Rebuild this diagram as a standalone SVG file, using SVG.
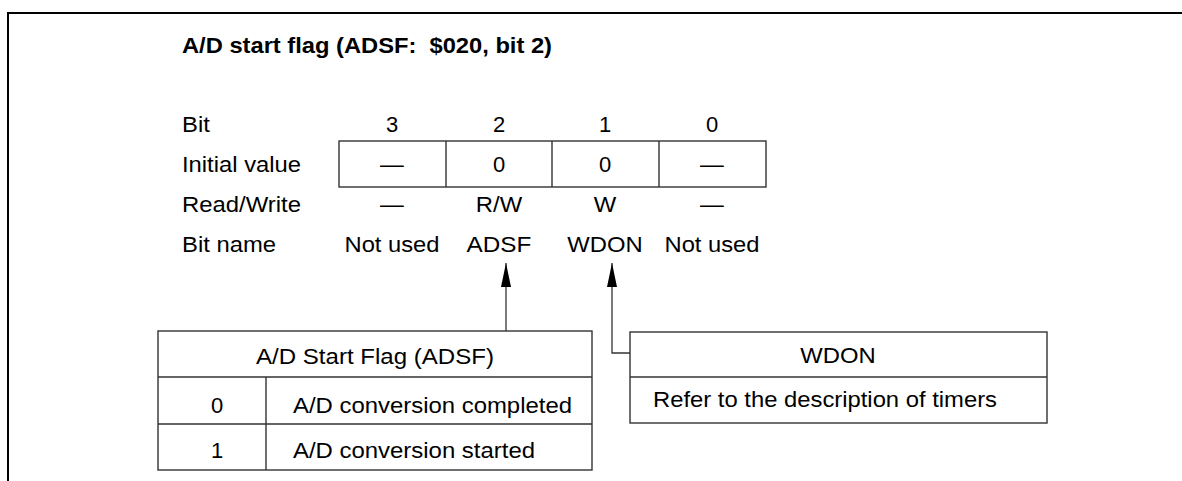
<svg xmlns="http://www.w3.org/2000/svg" width="1182" height="481" viewBox="0 0 1182 481">
<defs>
<style>
text{font-family:"Liberation Sans",Arial,sans-serif;font-size:22px;fill:#000}
.t{font-weight:bold;white-space:pre}
.c{text-anchor:middle}
.box{fill:none;stroke:#333;stroke-width:1.4}
.conn{fill:none;stroke:#333;stroke-width:1.3}
.frame{fill:none;stroke:#000;stroke-width:2}
</style>
<marker id="ah" markerUnits="userSpaceOnUse" markerWidth="24" markerHeight="10" refX="24" refY="5" orient="auto">
<path d="M0,0 L24,5 L0,10 z" fill="#000"/>
</marker>
</defs>
<rect width="1182" height="481" fill="#fff"/>
<path class="frame" d="M8,481 V13 H1182"/>
<text class="t" x="182" y="53" xml:space="preserve" textLength="370" lengthAdjust="spacingAndGlyphs">A/D start flag (ADSF:  $020, bit 2)</text>

<g id="register">
<text x="182" y="132" textLength="27.8" lengthAdjust="spacingAndGlyphs">Bit</text>
<text x="182" y="172" textLength="119" lengthAdjust="spacingAndGlyphs">Initial value</text>
<text x="182" y="212" textLength="119" lengthAdjust="spacingAndGlyphs">Read/Write</text>
<text x="182" y="252" textLength="94" lengthAdjust="spacingAndGlyphs">Bit name</text>
<text class="c" x="392" y="132">3</text>
<text class="c" x="499" y="132">2</text>
<text class="c" x="605" y="132">1</text>
<text class="c" x="712" y="132">0</text>
<rect class="box" x="339" y="141" width="427" height="46"/>
<path class="box" d="M446,141 V187 M552,141 V187 M659,141 V187"/>
<text class="c" x="392" y="172" textLength="23.8" lengthAdjust="spacingAndGlyphs">—</text>
<text class="c" x="499" y="172">0</text>
<text class="c" x="605" y="172">0</text>
<text class="c" x="712" y="172" textLength="23.8" lengthAdjust="spacingAndGlyphs">—</text>
<text class="c" x="392" y="212" textLength="23.8" lengthAdjust="spacingAndGlyphs">—</text>
<text class="c" x="499" y="212" textLength="46.3" lengthAdjust="spacingAndGlyphs">R/W</text>
<text class="c" x="605" y="212" textLength="22.5" lengthAdjust="spacingAndGlyphs">W</text>
<text class="c" x="712" y="212" textLength="23.8" lengthAdjust="spacingAndGlyphs">—</text>
<text class="c" x="392" y="252" textLength="95" lengthAdjust="spacingAndGlyphs">Not used</text>
<text class="c" x="499" y="252" textLength="64.8" lengthAdjust="spacingAndGlyphs">ADSF</text>
<text class="c" x="605" y="252" textLength="75.4" lengthAdjust="spacingAndGlyphs">WDON</text>
<text class="c" x="712" y="252" textLength="95" lengthAdjust="spacingAndGlyphs">Not used</text>
</g>

<g id="connectors">
<path class="conn" d="M506,331 V263" marker-end="url(#ah)"/>
<path class="conn" d="M630,353 H612 V263" marker-end="url(#ah)"/>
</g>

<g id="adsf-table">
<rect class="box" x="158" y="331" width="434" height="139"/>
<path class="box" d="M158,377 H592 M158,424 H592 M266,377 V470"/>
<text class="c" x="375" y="364" textLength="238" lengthAdjust="spacingAndGlyphs">A/D Start Flag (ADSF)</text>
<text class="c" x="217" y="413">0</text>
<text x="293" y="413" textLength="279" lengthAdjust="spacingAndGlyphs">A/D conversion completed</text>
<text class="c" x="217" y="458">1</text>
<text x="293" y="458" textLength="242" lengthAdjust="spacingAndGlyphs">A/D conversion started</text>
</g>

<g id="wdon-table">
<rect class="box" x="630" y="332" width="417" height="91"/>
<path class="box" d="M630,377 H1047"/>
<text class="c" x="838" y="363" textLength="75.4" lengthAdjust="spacingAndGlyphs">WDON</text>
<text x="653" y="407" textLength="344" lengthAdjust="spacingAndGlyphs">Refer to the description of timers</text>
</g>
</svg>
